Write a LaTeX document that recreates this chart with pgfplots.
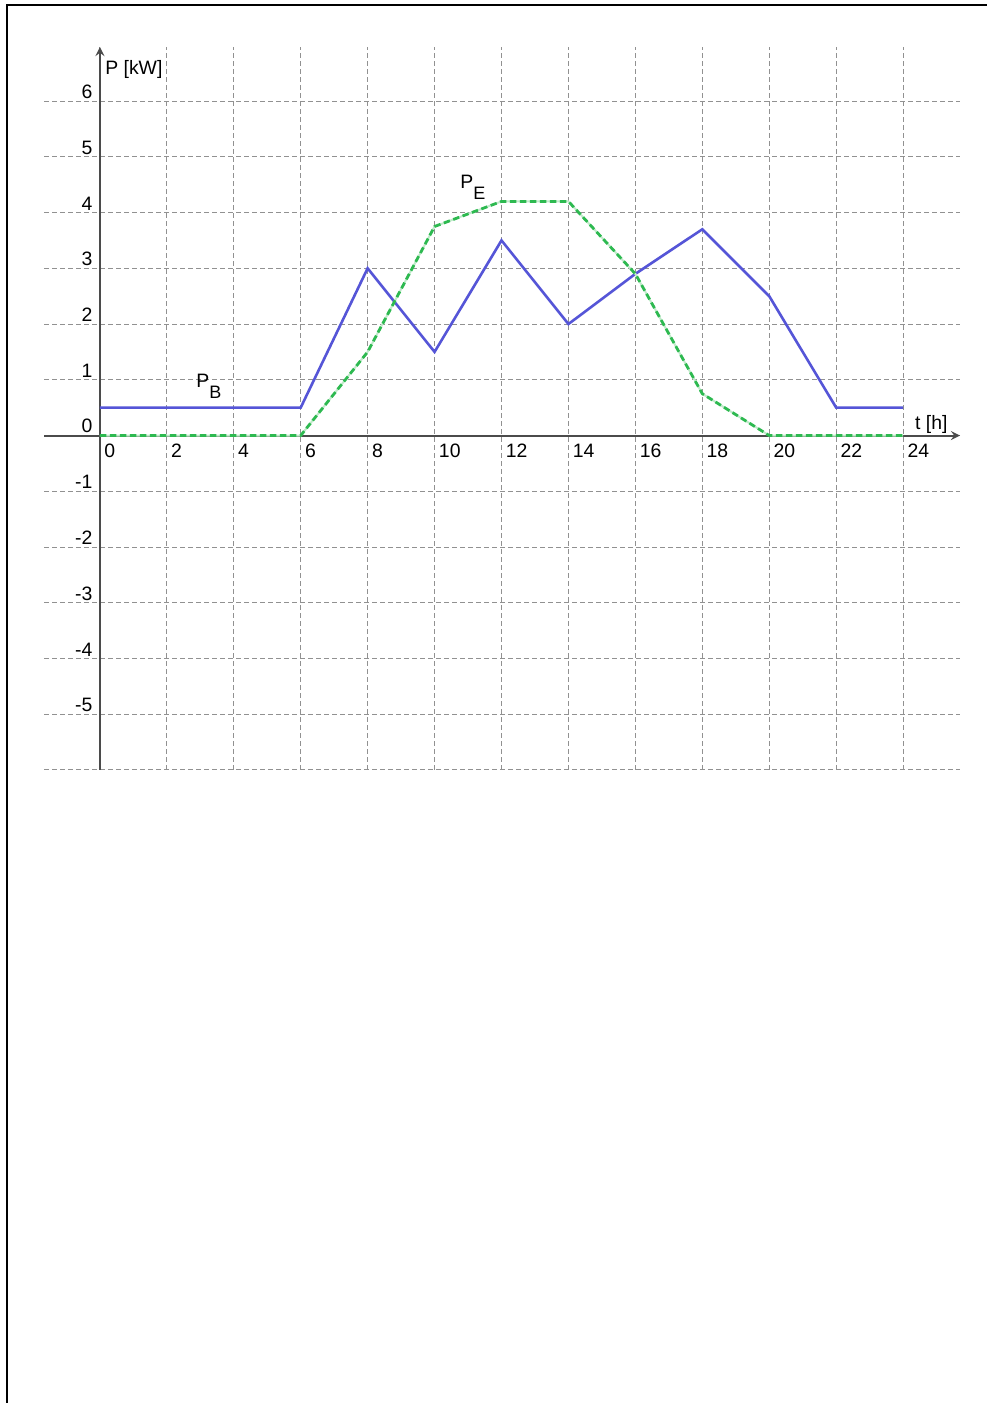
\documentclass[border=0pt]{standalone}
\usepackage{fontspec}
\setmainfont{Liberation Sans}
\usepackage{pgfplots}
\pgfplotsset{compat=1.18}
\definecolor{pb}{RGB}{85,85,215}
\definecolor{pe}{RGB}{45,185,80}
\definecolor{gridc}{RGB}{145,145,145}
\definecolor{axc}{RGB}{75,75,75}
\begin{document}
\begin{tikzpicture}[x=1pt,y=1pt]
\useasboundingbox (0,0) rectangle (493.5,701.5);
\draw[line width=1pt] (3.5,0) -- (3.5,699) -- (493.5,699);
\begin{axis}[
  at={(22pt,316.5pt)}, anchor=south west,
  scale only axis, width=458pt, height=361.5pt,
  xmin=-1.67, xmax=25.7, ymin=-6, ymax=6.97,
  axis lines=middle,
  axis line style={axc, line width=1pt},
  xtick={0,2,4,6,8,10,12,14,16,18,20,22,24},
  xticklabels={0,2,4,6,8,10,12,14,16,18,20,22,24},
  ytick={-6,-5,-4,-3,-2,-1,0,1,2,3,4,5,6},
  yticklabels={{},-5,-4,-3,-2,-1,0,1,2,3,4,5,6},
  grid=major,
  major grid style={gridc, line width=0.5pt, dash pattern=on 2.5pt off 1.5pt},
  major tick length=0pt,
  hide obscured x ticks=false, hide obscured y ticks=false,
  xticklabel style={anchor=north west, inner sep=0pt, xshift=2pt, yshift=-4pt},
  yticklabel style={anchor=south east, inner sep=0pt, xshift=-3.5pt, yshift=1pt},
  tick label style={font=\fontsize{9.7}{11.6}\selectfont},
  /pgf/number format/assume math mode=true,
  clip=false,
]
\addplot[pb, line width=1.3pt] coordinates {(0,0.5)(6,0.5)(8,3)(10,1.5)(12,3.5)(14,2)(16,2.9)(18,3.7)(20,2.5)(22,0.5)(24,0.5)};
\addplot[pe, line width=1.4pt, dash pattern=on 3.2pt off 1.8pt,
  preaction={draw, pe!30, solid, line width=1pt}] coordinates {(0,0)(6,0)(8,1.5)(10,3.75)(12,4.2)(14,4.2)(16,2.9)(18,0.75)(20,0)(24,0)};
\node[anchor=base west, inner sep=0pt, font=\fontsize{9.7}{11.6}\selectfont] at (axis cs:0.15,6.47) {P [kW]};
\node[anchor=base west, inner sep=0pt, font=\fontsize{9.7}{11.6}\selectfont] at (axis cs:24.35,0.11) {t [h]};
\node[anchor=base west, inner sep=0pt, font=\fontsize{9.7}{11.6}\selectfont] at (axis cs:2.87,0.86) {P\raisebox{-5.5pt}{\fontsize{9}{10}\selectfont B}};
\node[anchor=base west, inner sep=0pt, font=\fontsize{9.7}{11.6}\selectfont] at (axis cs:10.76,4.43) {P\raisebox{-5.5pt}{\fontsize{9}{10}\selectfont E}};
\end{axis}
\end{tikzpicture}
\end{document}
